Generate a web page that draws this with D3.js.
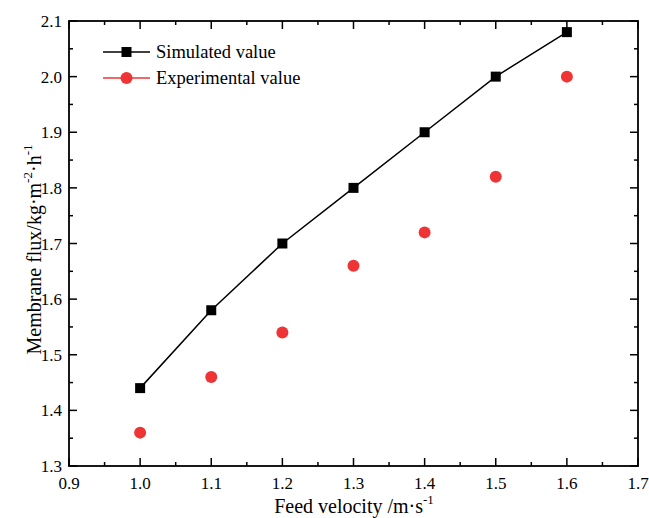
<!DOCTYPE html>
<html>
<head>
<meta charset="utf-8">
<script src="https://cdn.jsdelivr.net/npm/d3@7"></script>
<style>
  html, body { margin: 0; padding: 0; background: #fff; }
  svg text { font-family: "Liberation Serif", "Times New Roman", serif; fill: #000; }
</style>
</head>
<body>
<svg id="chart" width="649" height="518"></svg>
<script>
// Feed velocity (m/s) and membrane flux (kg·m^-2·h^-1)
const velocities = [1.0, 1.1, 1.2, 1.3, 1.4, 1.5, 1.6];
const simulated = [1.44, 1.58, 1.70, 1.80, 1.90, 2.00, 2.08];
const experimental = [1.36, 1.46, 1.54, 1.66, 1.72, 1.82, 2.00];
const xTicks = [0.9, 1.0, 1.1, 1.2, 1.3, 1.4, 1.5, 1.6, 1.7];
const yTicks = [1.3, 1.4, 1.5, 1.6, 1.7, 1.8, 1.9, 2.0, 2.1];
const seriesNames = ["Simulated value", "Experimental value"];

const svg = d3.select("#chart");
const m = { left: 69, right: 638, top: 21, bottom: 466 };
const red = "#ee3435";

const x = d3.scaleLinear().domain([0.9, 1.7]).range([m.left, m.right]);
const y = d3.scaleLinear().domain([1.3, 2.1]).range([m.bottom, m.top]);

const minorX = d3.range(0.95, 1.7, 0.1);
const minorY = d3.range(1.35, 2.1, 0.1);

const g = svg.append("g");

// Inward ticks on all four sides, minor ticks at the half steps
function ticks(vals, len, side) {
  vals.forEach(v => {
    let x1, y1, x2, y2;
    if (side === "bottom") { x1 = x2 = x(v); y1 = m.bottom; y2 = m.bottom - len; }
    if (side === "top") { x1 = x2 = x(v); y1 = m.top; y2 = m.top + len; }
    if (side === "left") { y1 = y2 = y(v); x1 = m.left; x2 = m.left + len; }
    if (side === "right") { y1 = y2 = y(v); x1 = m.right; x2 = m.right - len; }
    g.append("line").attr("x1", x1).attr("y1", y1).attr("x2", x2).attr("y2", y2)
      .attr("stroke", "#000").attr("stroke-width", 1.5);
  });
}
ticks(xTicks, 8, "bottom"); ticks(xTicks, 8, "top");
ticks(minorX, 4, "bottom"); ticks(minorX, 4, "top");
ticks(yTicks, 8, "left"); ticks(yTicks, 8, "right");
ticks(minorY, 4, "left"); ticks(minorY, 4, "right");

g.append("rect").attr("x", m.left).attr("y", m.top)
  .attr("width", m.right - m.left).attr("height", m.bottom - m.top)
  .attr("fill", "none").attr("stroke", "#000").attr("stroke-width", 1.8);

// Tick labels
g.selectAll(".xl").data(xTicks).enter().append("text")
  .attr("x", d => x(d)).attr("y", m.bottom + 23)
  .attr("text-anchor", "middle").attr("font-size", 17)
  .text(d => d.toFixed(1));
g.selectAll(".yl").data(yTicks).enter().append("text")
  .attr("x", m.left - 7).attr("y", d => y(d) + 6)
  .attr("text-anchor", "end").attr("font-size", 17)
  .text(d => d.toFixed(1));

// Axis titles
const xt = svg.append("text").attr("x", 354).attr("y", 513)
  .attr("text-anchor", "middle").attr("font-size", 20);
xt.append("tspan").text("Feed velocity /m·s");
xt.append("tspan").attr("font-size", 13).attr("dy", -9).text("-1");

const yt = svg.append("text")
  .attr("transform", `translate(41,${(m.top + m.bottom) / 2 + 6}) rotate(-90)`)
  .attr("text-anchor", "middle").attr("font-size", 20);
yt.append("tspan").text("Membrane flux/kg·m");
yt.append("tspan").attr("font-size", 13).attr("dy", -9).text("-2");
yt.append("tspan").attr("dy", 9).text("·h");
yt.append("tspan").attr("font-size", 13).attr("dy", -9).text("-1");

// Simulated series: line with square markers
const line = d3.line().x((d, i) => x(velocities[i])).y(d => y(d));
g.append("path").datum(simulated).attr("d", line)
  .attr("fill", "none").attr("stroke", "#000").attr("stroke-width", 1.5);
const sq = 10;
g.selectAll(".sq").data(simulated).enter().append("rect")
  .attr("x", (d, i) => x(velocities[i]) - sq / 2).attr("y", d => y(d) - sq / 2)
  .attr("width", sq).attr("height", sq).attr("fill", "#000");

// Experimental series: circles
g.selectAll(".ci").data(experimental).enter().append("circle")
  .attr("cx", (d, i) => x(velocities[i])).attr("cy", d => y(d))
  .attr("r", 6).attr("fill", red);

// Legend
const lg = svg.append("g");
[0, 1].forEach(i => {
  const ly = 52 + i * 26;
  const col = i === 0 ? "#000" : red;
  lg.append("line").attr("x1", 103).attr("x2", 150).attr("y1", ly).attr("y2", ly)
    .attr("stroke", col).attr("stroke-width", 1.5);
  if (i === 0) {
    lg.append("rect").attr("x", 126.5 - sq / 2).attr("y", ly - sq / 2)
      .attr("width", sq).attr("height", sq).attr("fill", col);
  } else {
    lg.append("circle").attr("cx", 126.5).attr("cy", ly).attr("r", 6).attr("fill", col);
  }
  lg.append("text").attr("x", 156).attr("y", ly + 6).attr("font-size", 18.5)
    .text(seriesNames[i]);
});
</script>
</body>
</html>
